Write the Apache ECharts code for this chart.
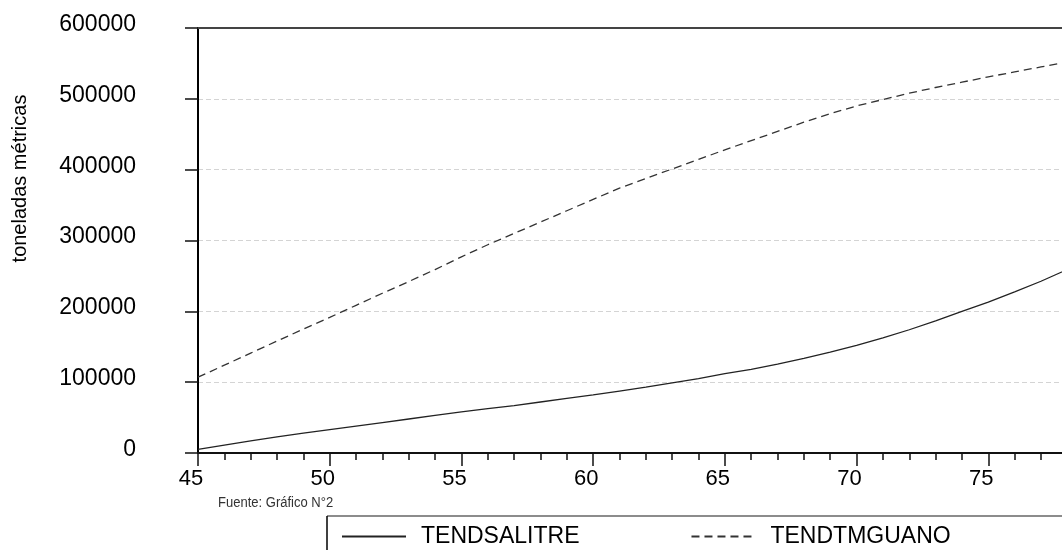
<!DOCTYPE html>
<html>
<head>
<meta charset="utf-8">
<script src="https://cdn.jsdelivr.net/npm/echarts@6/dist/echarts.min.js"></script>
<style>
html,body{margin:0;padding:0;background:#fff;}
#chart{width:1062px;height:550px;}
</style>
</head>
<body>
<div id="chart"></div>
<script>
// ---- data ----
const years = [45,46,47,48,49,50,51,52,53,54,55,56,57,58,59,60,61,62,63,64,65,66,67,68,69,70,71,72,73,74,75,76,77,78];
const tendSalitre = [5000,11000,17000,22700,28000,33000,38000,43000,48000,53000,58000,62500,67000,72000,77000,82000,87500,93000,99000,105000,112000,118000,125500,133500,142500,152000,162500,174000,186500,200000,213000,227500,242500,259000];
const tendTmGuano = [107000,124000,141000,158000,175000,191500,208500,225500,242000,259000,277000,294000,310000,326000,342000,358000,374000,387500,401000,414500,428000,441000,454000,467000,479000,490000,499000,508000,516000,523500,531000,538000,545000,552000];
const seriesNames = ['TENDSALITRE', 'TENDTMGUANO'];
const xTickLabels = [45,50,55,60,65,70,75];
const xAxisEnd = 80;
const yTickLabels = [0,100000,200000,300000,400000,500000,600000];
const yAxisName = 'toneladas métricas';
const sourceNote = 'Fuente: Gráfico N°2';

const FONT = "'Liberation Sans', Arial, sans-serif";
const chart = echarts.init(document.getElementById('chart'), null, {renderer: 'canvas'});

const option = {
  backgroundColor: '#ffffff',
  animation: false,
  textStyle: {fontFamily: FONT},
  grid: {left: 198, top: 28, right: -58, height: 425, containLabel: false, outerBoundsMode: 'none'},
  legend: {
    data: seriesNames,
    left: 336,
    top: 520,
    itemWidth: 64,
    itemHeight: 14,
    itemGap: 111,
    itemStyle: {opacity: 0},
    textStyle: {fontSize: 23, color: '#000', fontFamily: FONT, padding: [0,0,0,10]}
  },
  xAxis: [{
    type: 'value',
    min: xTickLabels[0],
    max: xAxisEnd,
    interval: xTickLabels[1] - xTickLabels[0],
    axisLine: {show: true, onZero: false, lineStyle: {color: '#111', width: 2}},
    axisTick: {show: true, length: 13, lineStyle: {color: '#111', width: 1.5}},
    minorTick: {show: true, splitNumber: 5, length: 7, lineStyle: {color: '#111', width: 1.5}},
    axisLabel: {show: true, margin: 15, fontSize: 22, color: '#000', fontFamily: FONT, padding: [0,14,0,0]},
    splitLine: {show: false}
  }, {
    type: 'value',
    position: 'top',
    min: xTickLabels[0],
    max: xAxisEnd,
    interval: xTickLabels[1] - xTickLabels[0],
    axisLine: {show: true, onZero: false, lineStyle: {color: '#444', width: 2}},
    axisTick: {show: false},
    axisLabel: {show: false},
    splitLine: {show: false}
  }],
  yAxis: {
    type: 'value',
    min: yTickLabels[0],
    max: yTickLabels[yTickLabels.length - 1],
    interval: yTickLabels[1] - yTickLabels[0],
    name: yAxisName,
    nameLocation: 'middle',
    nameGap: 168,
    nameTextStyle: {fontSize: 20, color: '#000', fontFamily: FONT, padding: [0,0,0,124]},
    axisLine: {show: true, onZero: false, lineStyle: {color: '#000', width: 2}},
    axisTick: {show: true, length: 13, lineStyle: {color: '#111', width: 1.5}},
    axisLabel: {show: true, margin: 62, fontSize: 23, color: '#000', fontFamily: FONT, verticalAlign: 'bottom', lineHeight: 7, formatter: v => String(v)},
    splitLine: {show: true, lineStyle: {color: '#d4d4d4', width: 1, type: [5,3]}}
  },
  series: [{
    name: seriesNames[0],
    type: 'line',
    symbol: 'none',
    smooth: false,
    data: years.map((y, i) => [y, tendSalitre[i]]),
    lineStyle: {color: '#222', width: 1.3, type: 'solid'},
    itemStyle: {color: '#222'}
  }, {
    name: seriesNames[1],
    type: 'line',
    symbol: 'none',
    smooth: false,
    data: years.map((y, i) => [y, tendTmGuano[i]]),
    lineStyle: {color: '#333', width: 1.3, type: [8,5]},
    itemStyle: {color: '#333'}
  }],
  graphic: [{
    type: 'text',
    x: 218,
    y: 503,
    scaleX: 0.93,
    style: {text: sourceNote, font: "14px 'Liberation Sans', Arial, sans-serif", fill: '#333', align: 'left', verticalAlign: 'middle'}
  }, {
    type: 'line',
    shape: {x1: 327, y1: 516, x2: 1062, y2: 516},
    style: {stroke: '#8c8c8c', lineWidth: 2}
  }, {
    type: 'line',
    shape: {x1: 327, y1: 516, x2: 327, y2: 550},
    style: {stroke: '#000', lineWidth: 1.5}
  }]
};
chart.setOption(option);
</script>
</body>
</html>
